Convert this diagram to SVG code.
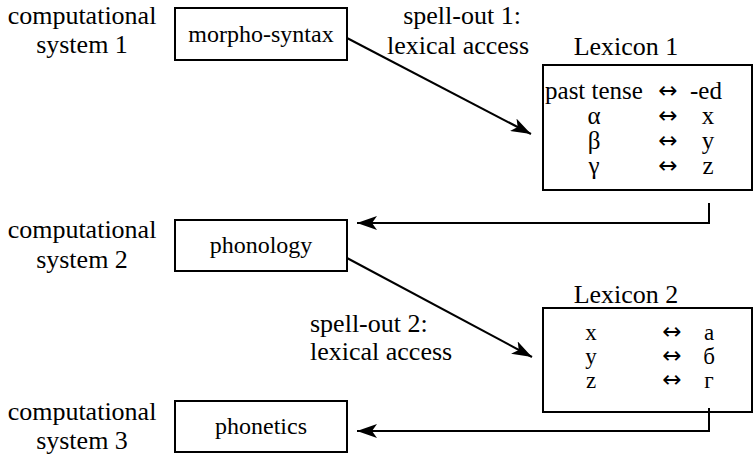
<svg xmlns="http://www.w3.org/2000/svg" width="753" height="458" viewBox="0 0 753 458" font-family="'Liberation Serif', 'Times New Roman', serif">
<style>
text{font-family:'Liberation Serif','Times New Roman',serif;fill:#000}
.lbl{font-size:26px;text-anchor:middle}
.box{fill:#fff;stroke:#000;stroke-width:2}
.bt{font-size:24px;text-anchor:middle}
.lx{font-size:25px;text-anchor:middle}
.lx2{font-size:23px;text-anchor:middle}
.ar{font-family:'DejaVu Sans',sans-serif;font-size:23px;text-anchor:middle}
.title{font-size:26px;text-anchor:middle}
.con{fill:none;stroke:#000;stroke-width:2}
</style>
<defs>
<marker id="ah" markerUnits="userSpaceOnUse" viewBox="0 0 20 14" refX="20" refY="7" markerWidth="20" markerHeight="14" orient="auto">
<path d="M0,0 L20,7 L0,14 L5,7 Z" fill="#000"/>
</marker>
</defs>
<rect width="753" height="458" fill="#fff"/>
<g id="label-cs1"><text class="lbl" x="82" y="24">computational</text><text class="lbl" x="82" y="53">system 1</text></g>
<g id="label-cs2"><text class="lbl" x="82" y="238">computational</text><text class="lbl" x="82" y="268">system 2</text></g>
<g id="label-cs3"><text class="lbl" x="82" y="420">computational</text><text class="lbl" x="82" y="449">system 3</text></g>
<g id="morpho-syntax"><rect class="box" x="175" y="8" width="172" height="52"/><text class="bt" x="261" y="42">morpho-syntax</text></g>
<g id="phonology"><rect class="box" x="175" y="220" width="172" height="51"/><text class="bt" x="261" y="253">phonology</text></g>
<g id="phonetics"><rect class="box" x="175" y="401" width="172" height="51"/><text class="bt" x="261" y="434">phonetics</text></g>
<g id="lexicon1">
<text class="title" x="626" y="55">Lexicon 1</text>
<rect class="box" x="543" y="65" width="209" height="125"/>
<text class="lx" x="594" y="99">past tense</text><text class="ar" x="668" y="98">↔</text><text class="lx" x="706" y="99">-ed</text>
<text class="lx" x="594" y="124">α</text><text class="ar" x="668" y="123">↔</text><text class="lx" x="708" y="124">x</text>
<text class="lx" x="594" y="149">β</text><text class="ar" x="668" y="148">↔</text><text class="lx" x="708" y="149">y</text>
<text class="lx" x="594" y="174">γ</text><text class="ar" x="668" y="173">↔</text><text class="lx" x="708" y="174">z</text>
</g>
<g id="lexicon2">
<text class="title" x="626" y="303">Lexicon 2</text>
<rect class="box" x="543" y="308" width="209" height="104"/>
<text class="lx2" x="591" y="340">x</text><text class="ar" x="672" y="339">↔</text><text class="lx2" x="709" y="340">а</text>
<text class="lx2" x="591" y="364">y</text><text class="ar" x="672" y="363">↔</text><text class="lx2" x="709" y="364">б</text>
<text class="lx2" x="591" y="388">z</text><text class="ar" x="672" y="387">↔</text><text class="lx2" x="709" y="388">г</text>
</g>
<g id="connectors">
<path class="con" d="M347,38 L531,134" marker-end="url(#ah)"/>
<path class="con" d="M709,203 V223 H357" marker-end="url(#ah)"/>
<path class="con" d="M347,258 L532,357" marker-end="url(#ah)"/>
<path class="con" d="M709,408 V431 H357" marker-end="url(#ah)"/>
<text class="title" x="462" y="24">spell-out 1:</text>
<text class="title" x="458" y="54">lexical access</text>
<text class="title" x="310" y="332" style="text-anchor:start">spell-out 2:</text>
<text class="title" x="310" y="360" style="text-anchor:start">lexical access</text>
</g>
</svg>
